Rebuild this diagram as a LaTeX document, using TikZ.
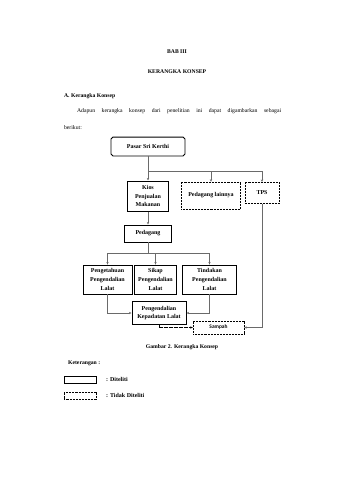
\documentclass[tikz,border=0pt]{standalone}
\usepackage{fontspec}
\setmainfont{Liberation Serif}
\newfontfamily\calfont{Carlito}
\usetikzlibrary{arrows.meta,positioning}
\definecolor{lgray}{HTML}{6A6A6A}

\begin{document}
\begin{tikzpicture}[x=1.755pt,y=-1.755pt,
  box/.style={draw=black, line width=1.4pt, align=center, inner sep=1pt, font=\fontsize{10.5}{15.5}\selectfont\bfseries},
  dbox/.style={box, line width=1.2pt, dash pattern=on 1.6pt off 1pt},
  line/.style={draw=lgray, line width=.8pt},
  arr/.style={line, -{Stealth[length=4.5pt,width=4pt]}},
  darr/.style={arr, draw=black, dash pattern=on 1.2pt off 1pt}]

\useasboundingbox (0,0) rectangle (339,480);

% Heading and text
\node[font=\bfseries] (bab) at (177,52) {BAB III};
\node[font=\bfseries] (judul) at (177,72) {KERANGKA KONSEP};
\node[font=\bfseries, anchor=west, inner sep=0pt] (sub) at (64,96) {A. Kerangka Konsep};
\node[anchor=west, inner sep=0pt] (par) at (77,111) {\makebox[358pt][s]{Adapun kerangka konsep dari penelitian ini dapat digambarkan sebagai}};
\node[anchor=west, inner sep=0pt] (par2) at (64,128) {berikut:};

% Boxes
\node[box, rounded corners=1.2mm, minimum width=130pt, minimum height=33pt] (pasar) at (148,146.5) {Pasar Sri Kerthi};
\node[box, minimum width=72pt, minimum height=53pt] (kios) at (148,196) {Kios\\Penjualan\\Makanan};
\node[dbox, minimum width=104pt, minimum height=47pt] (lain) at (211,195.5) {Pedagang lainnya};
\node[dbox, minimum width=60pt, minimum height=37pt, anchor=north] (tps) at (262,182) {TPS};
\node[box, minimum width=82pt, minimum height=30pt] (pedagang) at (148,233.5) {Pedagang};
\node[box, minimum width=86pt, minimum height=51pt] (tahu) at (107.5,279.5) {Pengetahuan\\Pengendalian\\Lalat};
\node[box, minimum width=75pt, minimum height=51pt] (sikap) at (155.5,279.5) {Sikap\\Pengendalian\\Lalat};
\node[box, minimum width=96pt, minimum height=51pt] (tindak) at (209.5,279.5) {Tindakan\\Pengendalian\\Lalat};
\node[box, minimum width=95pt, minimum height=39pt] (kendali) at (159,313) {Pengendalian\\Kepadatan Lalat};
\node[dbox, minimum width=89pt, minimum height=23pt, font=\calfont\fontsize{9.5}{10}\selectfont\bfseries] (sampah) at (218.5,327.5) {Sampah};

% Connectors
\coordinate (j1) at (0,171);
\draw[line] (pasar.south) -- (pasar.south |- j1);
\draw[line] (kios.north |- j1) -- (tps.north |- j1);
\foreach \n in {kios,lain,tps} \draw[arr] (\n.north |- j1) -- (\n.north);
\draw[arr] (kios) -- (pedagang);
\coordinate (j2) at (0,253);
\draw[line] (pedagang.south) -- (pedagang.south |- j2);
\draw[line] (tahu.north |- j2) -- (tindak.north |- j2);
\foreach \n in {tahu,sikap,tindak} \draw[arr] (\n.north |- j2) -- (\n.north);
\draw[arr] (tahu.south) |- (kendali.west);
\draw[arr] (tindak.south) |- (kendali.east);
\draw[darr] (kendali.south) |- (sampah.west);
\draw[arr] (tps.south) |- (sampah.east);

% Caption and legend
\node[font=\bfseries] (cap) at (182,347) {Gambar 2. Kerangka Konsep};
\node[font=\bfseries, anchor=west, inner sep=0pt] (ket) at (68,363) {Keterangan :};
\node[box, minimum width=56pt, minimum height=12pt] (leg1) at (80,379.5) {};
\node[dbox, minimum width=56pt, minimum height=12pt] (leg2) at (80,395.5) {};
\node[font=\fontsize{10.5}{12}\selectfont\bfseries, anchor=west, inner sep=0pt] (legt1) at (106,379.5) {: Diteliti};
\node[font=\fontsize{10.5}{12}\selectfont\bfseries, anchor=west, inner sep=0pt] (legt2) at (106,395.5) {: Tidak Diteliti};
\end{tikzpicture}
\end{document}
